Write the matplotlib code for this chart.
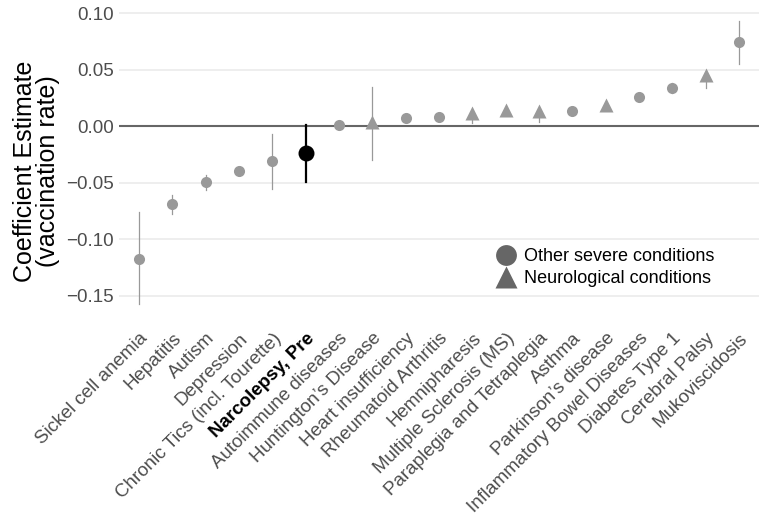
import matplotlib
matplotlib.use("Agg")
import matplotlib.pyplot as plt
from matplotlib.lines import Line2D

plt.rcParams['font.family'] = ['Liberation Sans', 'DejaVu Sans']

# data
conditions = ["Sickel cell anemia", "Hepatitis", "Autism", "Depression",
              "Chronic Tics (incl. Tourette)", "Narcolepsy, Pre", "Autoimmune diseases",
              "Huntington's Disease", "Heart insufficiency", "Rheumatoid Arthritis",
              "Hemnipharesis", "Multiple Sclerosis (MS)", "Paraplegia and Tetraplegia",
              "Asthma", "Parkinson's disease", "Inflammatory Bowel Diseases",
              "Diabetes Type 1", "Cerebral Palsy", "Mukoviscidosis"]
estimate = [-0.1177, -0.069, -0.0496, -0.0398, -0.031, -0.0242, 0.001, 0.004,
            0.0068, 0.0083, 0.0118, 0.014, 0.013, 0.013, 0.0186, 0.026, 0.034,
            0.045, 0.074]
ci_low = [-0.1575, -0.078, -0.057, -0.041, -0.0558, -0.0493, 0.000, -0.030,
          0.006, 0.007, 0.003, 0.012, 0.004, 0.012, 0.017, 0.025, 0.029,
          0.034, 0.0549]
ci_high = [-0.076, -0.061, -0.043, -0.038, -0.0071, 0.001, 0.002, 0.035,
           0.0075, 0.009, 0.015, 0.016, 0.016, 0.014, 0.020, 0.027, 0.038,
           0.048, 0.0932]
# group: "o" = other severe conditions, "n" = neurological
group = ["o", "o", "o", "o", "o", "o", "o", "n", "o", "o", "n", "n", "n",
         "o", "n", "o", "o", "n", "o"]

grey = "#999999"
fig = plt.figure(figsize=(7.59, 5.15), dpi=100)
ax = fig.add_axes([0.157, 0.381, 0.843, 0.608])

x = list(range(len(conditions)))
ax.axhline(0, color="#666666", lw=1.5, zorder=1)

for i in x:
    hl = conditions[i] == "Narcolepsy, Pre"
    col = "black" if hl else grey
    ax.plot([i, i], [ci_low[i], ci_high[i]], color=col, lw=1.6 if hl else 0.9, zorder=2)
    if group[i] == "n":
        ax.plot(i, estimate[i], marker="^", color=col, ms=10, mec="none", zorder=3)
    else:
        ax.plot(i, estimate[i], marker="o", color=col, ms=11.5 if hl else 8, mec="none", zorder=3)

ax.set_xlim(-0.6, len(conditions) - 0.4)
ax.set_ylim(-0.1706, 0.1066)
ax.set_yticks([-0.15, -0.10, -0.05, 0.00, 0.05, 0.10])
ax.set_yticklabels(["\u22120.15", "\u22120.10", "\u22120.05", "0.00", "0.05", "0.10"])
ax.yaxis.grid(True, color="#ebebeb", lw=1.2)
ax.set_axisbelow(True)
for s in ax.spines.values():
    s.set_visible(False)
ax.tick_params(length=0, labelsize=13.5, labelcolor="#4d4d4d", pad=4)

ax.set_xticks(x)
ax.set_xticklabels([c.replace("'", "\u2019") for c in conditions], rotation=45,
                   ha="right", va="top", rotation_mode="anchor")
for lbl in ax.get_xticklabels():
    if lbl.get_text() == "Narcolepsy, Pre":
        lbl.set_fontweight("bold")
        lbl.set_color("black")
ax.tick_params(axis="x", pad=8)

ax.set_ylabel("Coefficient Estimate\n(vaccination rate)", fontsize=18,
              linespacing=0.95)
ax.yaxis.set_label_coords(-0.092, 0.47)

handles = [Line2D([], [], marker="o", ls="none", color="#666666", ms=15, mec="none"),
           Line2D([], [], marker="^", ls="none", color="#666666", ms=16, mec="none")]
leg = ax.legend(handles, ["Other severe conditions", "Neurological conditions"],
                loc="lower left", bbox_to_anchor=(0.56, 0.05), fontsize=13,
                frameon=True, facecolor="white", edgecolor="none", framealpha=1,
                handletextpad=0.3, labelspacing=0.25, borderpad=0.4, handlelength=1.4)

fig.savefig("out.png", dpi=100)
